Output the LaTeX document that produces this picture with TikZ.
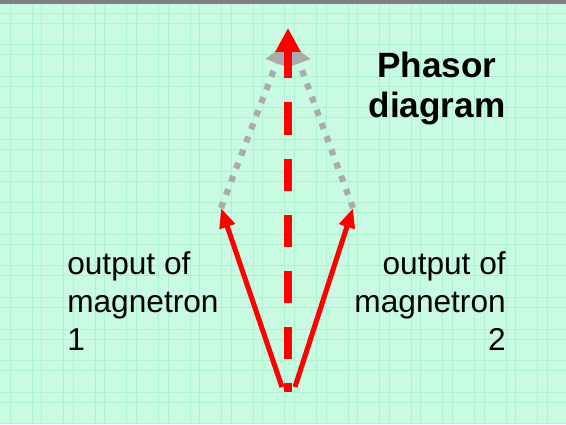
\documentclass[tikz,border=0pt]{standalone}
\usepackage{fontspec}
\setmainfont{Liberation Sans}
\usepackage{xcolor}
\definecolor{phasorbg}{HTML}{C8FBE2}
\definecolor{phasorgrid}{HTML}{ADF3D2}
\definecolor{phasorred}{HTML}{FF0000}
\definecolor{phasorgrey}{HTML}{ABABAB}
\usetikzlibrary{arrows.meta}

\begin{document}
\begin{tikzpicture}[
  x=0.025cm, y=-0.025cm,
  gridline/.style={line width=0.6pt, phasorgrid},
  topline/.style={line width=2.2pt, black!50},
  sumvec/.style={-{Triangle[length=17pt, width=17pt]}, line width=5.7pt, phasorred,
                 dash pattern=on 22.8pt off 17.1pt, dash phase=16.4pt},
  magvec/.style={-{Triangle[length=14pt, width=11pt]}, line width=3.6pt, phasorred},
  shiftvec/.style={-{Triangle[length=13pt, width=16pt]}, line width=4.4pt, phasorgrey,
                   dash pattern=on 4.4pt off 5.6pt},
  lbl/.style={inner sep=0pt, font=\fontsize{22.5}{27}\selectfont},
  hdr/.style={inner sep=0pt, align=center, font=\fontsize{25}{28.5}\selectfont\bfseries},
]
% ---------- paper
\useasboundingbox (0,0) rectangle (566,424);
\fill[phasorbg] (0,0) rectangle (566,424);
\foreach \k in {0,...,17} {
  \draw[gridline] (10+31.6*\k,0) -- (10+31.6*\k,424);
  \draw[gridline] (32+31.6*\k,0) -- (32+31.6*\k,424);
}
\foreach \k in {0,...,13} {
  \draw[gridline] (0,13+31.6*\k) -- (566,13+31.6*\k);
  \draw[gridline] (0,23+31.6*\k) -- (566,23+31.6*\k);
}
\draw[topline] (0,2) -- (566,2);

% ---------- phasor points
\coordinate (o)  at (288,392);
\coordinate (o1) at (282,387);
\coordinate (o2) at (295,387);
\coordinate (m1) at (221,208);
\coordinate (m2) at (353,208);
\coordinate (g1) at (283,46);
\coordinate (g2) at (293,46);
\coordinate (s)  at (288,28);

% ---------- vectors
\draw[shiftvec] (m1) -- (g1);
\draw[shiftvec] (m2) -- (g2);
\draw[sumvec] (o) -- (s);
\draw[magvec] (o1) -- (m1);
\draw[magvec] (o2) -- (m2);

% ---------- labels
\node[hdr, anchor=north] (title) at (437,52) {Phasor\\diagram};
\node[lbl, align=left, anchor=north west] (lab1) at (67,251) {output of\\magnetron\\1};
\node[lbl, align=right, anchor=north east] (lab2) at (506,251) {output of\\magnetron\\2};
\end{tikzpicture}
\end{document}
